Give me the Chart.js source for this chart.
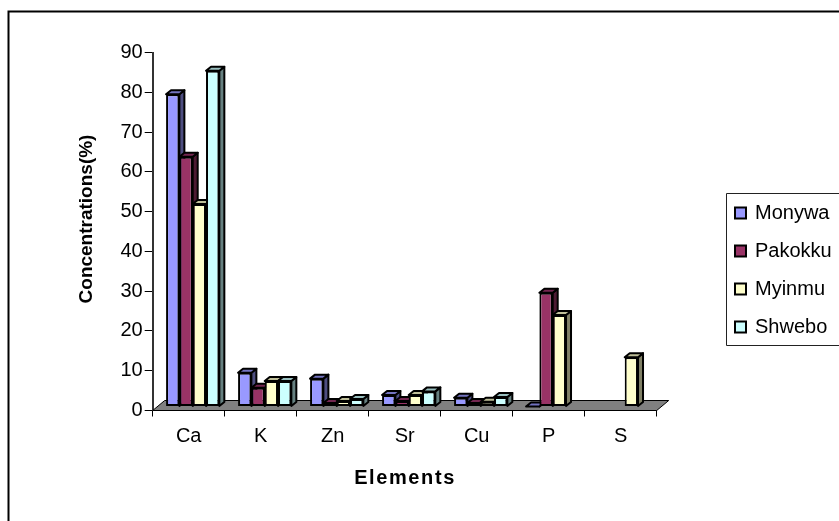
<!DOCTYPE html>
<html>
<head>
<meta charset="utf-8">
<style>
  html, body { margin: 0; padding: 0; background: #fff; overflow: hidden; }
  #wrap { width: 839px; height: 521px; }
</style>
<script src="https://cdn.jsdelivr.net/npm/chart.js@4"></script>
</head>
<body>
<div id="wrap"><canvas id="chart" width="839" height="521"></canvas></div>
<script>
const elements = ['Ca', 'K', 'Zn', 'Sr', 'Cu', 'P', 'S'];
const monywa = [78.5, 8.5, 7, 2.9, 2.2, 0, null];
const pakokku = [62.8, 4.7, 0.9, 1.4, 0.9, 28.6, null];
const myinmu = [50.9, 6.4, 1.4, 2.9, 1.2, 23, 12.4];
const shwebo = [84.4, 6.4, 1.9, 3.8, 2.4, null, null];

const FONT = '"Liberation Sans", Arial, sans-serif';
const shift = 4;       // bars stand in the middle of the floor
const depth = { x: 5, y: 4 };
const floorDepth = { x: 12, y: 10 };

// side and top colours of each series, same order as the datasets
const sideColors = ['#4d4d80', '#4d1a33', '#808066', '#668080'];
const topColors = ['#7373bf', '#732650', '#bfbf99', '#99bfbf'];

function poly(ctx, pts, fill) {
    ctx.beginPath();
    pts.forEach((p, i) => i ? ctx.lineTo(p[0], p[1]) : ctx.moveTo(p[0], p[1]));
    ctx.closePath();
    ctx.fillStyle = fill;
    ctx.fill();
    ctx.stroke();
}

const frame3d = {
    id: 'frame3d',
    beforeDraw(chart) {
        const ctx = chart.ctx;
        ctx.save();
        ctx.strokeStyle = '#000';
        ctx.lineWidth = 2;
        ctx.beginPath();
        ctx.moveTo(8.5, 521);
        ctx.lineTo(8.5, 11.5);
        ctx.lineTo(839, 11.5);
        ctx.stroke();
        ctx.restore();
    },
    beforeDatasetsDraw(chart) {
        const { ctx, chartArea: a } = chart;
        ctx.save();
        ctx.strokeStyle = '#000';
        ctx.lineWidth = 1;
        poly(ctx, [
            [a.left, a.bottom],
            [a.left + floorDepth.x, a.bottom - floorDepth.y],
            [a.right + floorDepth.x, a.bottom - floorDepth.y],
            [a.right, a.bottom]
        ], '#808080');
        // series left to right, so each bar's front covers its neighbour's side
        ctx.translate(shift, -shift);
        ctx.lineJoin = 'round';
        chart.data.datasets.forEach((ds, i) => {
            const meta = chart.getDatasetMeta(i);
            meta.data.forEach((el, j) => {
                if (ds.data[j] === null) return;
                const p = el.getProps(['x', 'y', 'base', 'width'], true);
                const l = p.x - p.width / 2, r = p.x + p.width / 2;
                ctx.strokeStyle = '#000';
                ctx.lineWidth = 2;
                poly(ctx, [[r, p.y], [r + depth.x, p.y - depth.y], [r + depth.x, p.base - depth.y], [r, p.base]], sideColors[i]);
                poly(ctx, [[l, p.y], [l + depth.x, p.y - depth.y], [r + depth.x, p.y - depth.y], [r, p.y]], topColors[i]);
                el.draw(ctx);
            });
        });
        ctx.restore();
    },
    beforeDatasetDraw() {
        return false;  // already drawn above
    },
    afterDraw(chart) {
        const ctx = chart.ctx;
        ctx.save();

        // axis titles, off centre and spaced out like the original
        ctx.fillStyle = '#000';
        ctx.textAlign = 'center';
        ctx.textBaseline = 'middle';
        ctx.font = 'bold 20px ' + FONT;
        ctx.letterSpacing = '1.6px';
        ctx.fillText('Elements', 405, 478);
        ctx.letterSpacing = '0px';
        ctx.save();
        ctx.translate(87, 219);
        ctx.rotate(-Math.PI / 2);
        ctx.font = 'bold 19px ' + FONT;
        ctx.fillText('Concentrations(%)', 0, 0);
        ctx.restore();

        // legend box runs off the right edge
        ctx.textAlign = 'left';
        ctx.strokeStyle = '#222';
        ctx.lineWidth = 1;
        ctx.fillStyle = '#fff';
        ctx.beginPath();
        ctx.rect(726.5, 193.5, 120, 152);
        ctx.fill();
        ctx.stroke();
        ctx.font = '20px ' + FONT;
        chart.data.datasets.forEach((ds, i) => {
            const y = 213 + i * 38;
            ctx.fillStyle = ds.backgroundColor;
            ctx.strokeStyle = '#000';
            ctx.lineWidth = 2;
            ctx.fillRect(735, y - 5.5, 11, 11);
            ctx.strokeRect(735, y - 5.5, 11, 11);
            ctx.fillStyle = '#000';
            ctx.fillText(ds.label, 755, y);
        });
        ctx.restore();
    }
};

function series(label, data, color) {
    return {
        label, data,
        backgroundColor: color,
        borderColor: '#000',
        borderWidth: 2,
        borderSkipped: false,
        categoryPercentage: 0.74,
        barPercentage: 1
    };
}

new Chart(document.getElementById('chart').getContext('2d'), {
    type: 'bar',
    plugins: [frame3d],
    data: {
        labels: elements,
        datasets: [
            series('Monywa', monywa, '#9999ff'),
            series('Pakokku', pakokku, '#993366'),
            series('Myinmu', myinmu, '#ffffcc'),
            series('Shwebo', shwebo, '#ccffff')
        ]
    },
    options: {
        responsive: false,
        animation: false,
        layout: { padding: { top: 52.5, right: 182.3, left: 0, bottom: 0 } },
        plugins: { legend: { display: false }, tooltip: { enabled: false } },
        scales: {
            x: {
                afterFit: s => { s.height = 110.5; },
                grid: { drawOnChartArea: false, color: '#000', tickLength: 6 },
                border: { color: '#000', width: 1 },
                ticks: { color: '#000', font: { family: FONT, size: 20 }, padding: 8 }
            },
            y: {
                min: 0, max: 90,
                afterFit: s => { s.width = 152.7; },
                grid: { drawOnChartArea: false, color: '#000', tickLength: 8 },
                border: { color: '#333', width: 2 },
                ticks: { stepSize: 10, color: '#000', font: { family: FONT, size: 20 }, padding: 2 }
            }
        }
    }
});
</script>
</body>
</html>
